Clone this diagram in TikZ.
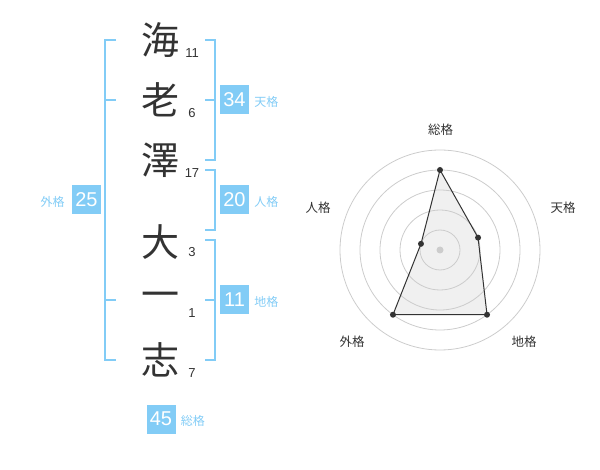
\documentclass[tikz,border=0pt]{standalone}
\usepackage{fontspec}
\setmainfont{Liberation Sans}
\newfontfamily\jpfont{Noto Sans CJK JP}
\usetikzlibrary{positioning,calc}
\definecolor{kakuBlue}{HTML}{82CCF6}
\definecolor{charGray}{HTML}{333333}
\definecolor{ringGray}{HTML}{CCCCCC}
\definecolor{areaGray}{HTML}{F0F0F0}

\begin{document}
\begin{tikzpicture}[x=1pt, y=-1pt, inner sep=0pt]

%local definitions
\tikzstyle{NameChar} = [text=charGray, font=\jpfont\fontsize{38}{38}\selectfont]
\tikzstyle{Strokes} = [text=charGray, font=\fontsize{13}{13}\selectfont]
\tikzstyle{KakuBox} = [fill=kakuBlue, text=white, minimum width=29pt, minimum height=29pt, font=\fontsize{20}{20}\selectfont]
\tikzstyle{KakuName} = [text=kakuBlue, font=\jpfont\fontsize{12}{12}\selectfont]
\tikzstyle{Bracket} = [draw=kakuBlue, line width=2pt]
\tikzstyle{RadarName} = [text=charGray, font=\jpfont\fontsize{12.5}{12.5}\selectfont]
\tikzstyle{Ring} = [draw=ringGray, line width=0.8pt]
\tikzstyle{Dot} = [circle, fill=charGray, minimum size=6pt]

\useasboundingbox (0,0) rectangle (600,470);

%name characters
	\node [NameChar] (charUmi) at (160,40) {海};
	\node [NameChar] (charEbi) at (160,100) {老};
	\node [NameChar] (charSawa) at (160,160) {澤};
	\node [NameChar] (charDai) at (160,242) {大};
	\node [NameChar] (charIchi) at (160,300) {一};
	\node [NameChar] (charShi) at (160,360) {志};

	\node [Strokes] (strUmi) at (192,53) {11};
	\node [Strokes] (strEbi) at (192,113) {6};
	\node [Strokes] (strSawa) at (192,173) {17};
	\node [Strokes] (strDai) at (192,252) {3};
	\node [Strokes] (strIchi) at (192,313) {1};
	\node [Strokes] (strShi) at (192,373) {7};

%brackets
	\draw [Bracket] (116,40) -- (105,40) -- (105,360) -- (116,360);
	\draw [Bracket] (105,100) -- (116,100);
	\draw [Bracket] (105,300) -- (116,300);

	\draw [Bracket] (205,40) -- (214.5,40) -- (214.5,160) -- (205,160);
	\draw [Bracket] (205,100) -- (214.5,100);
	\draw [Bracket] (205,170) -- (214.5,170) -- (214.5,230) -- (205,230);
	\draw [Bracket] (205,240) -- (214.5,240) -- (214.5,360) -- (205,360);
	\draw [Bracket] (205,300) -- (214.5,300);

%kaku values
	\node [KakuBox] (tenBox) at (234.5,100) {34};
	\node [KakuBox] (jinBox) at (234.5,200) {20};
	\node [KakuBox] (chiBox) at (234.5,300) {11};
	\node [KakuBox] (gaiBox) at (86.5,200) {25};
	\node [KakuBox] (souBox) at (161,419) {45};

	\node [KakuName, right=5pt of tenBox.base east, anchor=base west] (tenName) {天格};
	\node [KakuName, right=5pt of jinBox.base east, anchor=base west] (jinName) {人格};
	\node [KakuName, right=5pt of chiBox.base east, anchor=base west] (chiName) {地格};
	\node [KakuName, left=7pt of gaiBox.base west, anchor=base east] (gaiName) {外格};
	\node [KakuName, right=5pt of souBox.base east, anchor=base west] (souName) {総格};

%radar chart
	\coordinate (radarC) at (440,250);
	\coordinate (pSou) at ($(radarC)+(-90:80)$);
	\coordinate (pTen) at ($(radarC)+(-18:40)$);
	\coordinate (pChi) at ($(radarC)+(54:80)$);
	\coordinate (pGai) at ($(radarC)+(126:80)$);
	\coordinate (pJin) at ($(radarC)+(198:20)$);

	\fill [areaGray] (pSou) -- (pTen) -- (pChi) -- (pGai) -- (pJin) -- cycle;
	\draw [Ring] (radarC) circle [radius=20];
	\draw [Ring] (radarC) circle [radius=40];
	\draw [Ring] (radarC) circle [radius=60];
	\draw [Ring] (radarC) circle [radius=80];
	\draw [Ring] (radarC) circle [radius=100];
	\draw [charGray, line width=1pt] (pSou) -- (pTen) -- (pChi) -- (pGai) -- (pJin) -- cycle;

	\node [Dot, fill=ringGray, minimum size=7pt] (dotC) at (radarC) {};
	\node [Dot] (dotSou) at (pSou) {};
	\node [Dot] (dotTen) at (pTen) {};
	\node [Dot] (dotChi) at (pChi) {};
	\node [Dot] (dotGai) at (pGai) {};
	\node [Dot] (dotJin) at (pJin) {};

	\node [RadarName] (axSou) at (440.5,130) {総格};
	\node [RadarName] (axTen) at (563,208) {天格};
	\node [RadarName] (axChi) at (524,342) {地格};
	\node [RadarName] (axGai) at (352,342) {外格};
	\node [RadarName] (axJin) at (318,208) {人格};

\end{tikzpicture}
\end{document}
